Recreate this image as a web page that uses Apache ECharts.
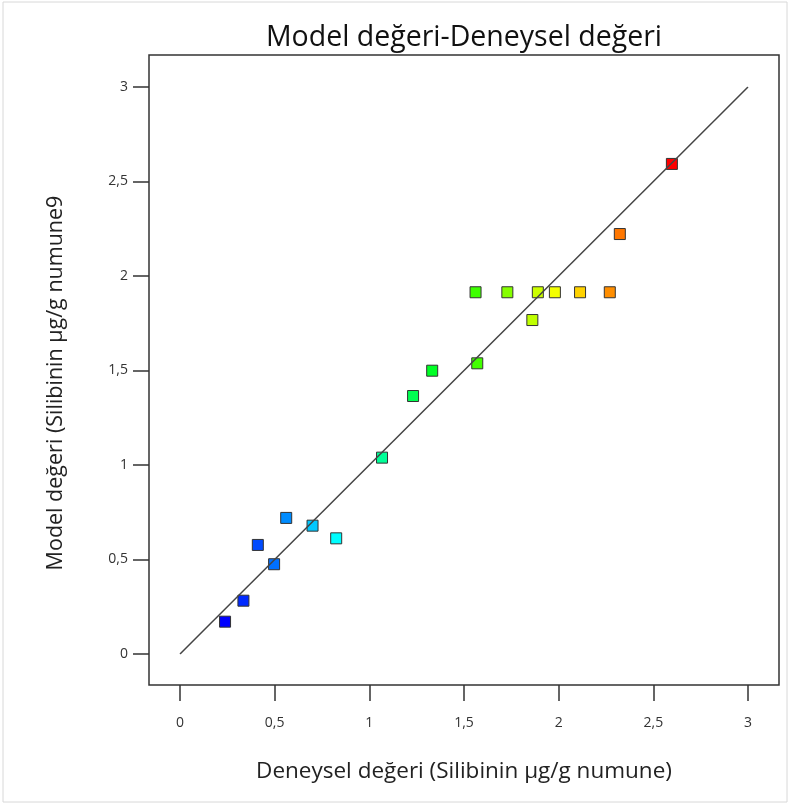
<!DOCTYPE html>
<html>
<head>
<meta charset="utf-8">
<script src="https://cdn.jsdelivr.net/npm/echarts@6/dist/echarts.min.js"></script>
<style>
  html, body { margin: 0; padding: 0; background: #fff; }
  #chart { width: 790px; height: 805px; }
</style>
</head>
<body>
<div id="chart"></div>
<script>
// Experimental (actual) vs. model-predicted silibinin content
const deneysel = [0.238, 0.335, 0.411, 0.497, 0.561, 0.700, 0.825, 1.067, 1.231, 1.332,
                  1.570, 1.561, 1.729, 1.861, 1.890, 1.980, 2.113, 2.270, 2.323, 2.598];
const model    = [0.171, 0.282, 0.577, 0.475, 0.720, 0.679, 0.612, 1.039, 1.365, 1.499,
                  1.538, 1.914, 1.914, 1.767, 1.914, 1.914, 1.914, 1.914, 2.222, 2.593];
const esitlikCizgisi = [[0, 0], [3, 3]];
const tickLabels = { 0: '0', 0.5: '0,5', 1: '1', 1.5: '1,5', 2: '2', 2.5: '2,5', 3: '3' };

const points = deneysel.map((v, i) => [v, model[i]]);
const fontFamily = '"Open Sans", "Noto Sans", sans-serif';
const fmt = v => tickLabels[v] !== undefined ? tickLabels[v] : String(v).replace('.', ',');

const chart = echarts.init(document.getElementById('chart'), null, { renderer: 'canvas' });
chart.setOption({
  backgroundColor: '#fff',
  animation: false,
  title: {
    text: 'Model değeri-Deneysel değeri',
    left: 459, top: 18, textAlign: 'center',
    textStyle: { fontFamily, fontSize: 28.5, fontWeight: 'normal', color: '#111' }
  },
  grid: [
    // data area: 0..3 on both axes
    { left: 180, right: 42, top: 87, bottom: 151, show: false },
    // frame around the plot
    { left: 149, right: 11, top: 55, bottom: 120, show: true,
      borderColor: '#333', borderWidth: 1.5, backgroundColor: 'transparent' },
    // thin outer page border
    { left: 3, right: 3, top: 2, bottom: 3, show: true,
      borderColor: '#d8d8d8', borderWidth: 1, backgroundColor: 'transparent' }
  ],
  xAxis: [
    {
      gridIndex: 0, type: 'value', min: 0, max: 3, interval: 0.5,
      position: 'bottom', offset: 31,
      axisLine: { show: false, onZero: false },
      axisTick: { show: true, length: 16, inside: false, lineStyle: { color: '#333', width: 1.5 } },
      axisLabel: { formatter: fmt, margin: 31, fontFamily, fontSize: 14, color: '#333' },
      splitLine: { show: false },
      name: 'Deneysel değeri (Silibinin µg/g numune)',
      nameLocation: 'middle', nameGap: 75,
      nameTextStyle: { fontFamily, fontSize: 22.5, color: '#222' }
    },
    { gridIndex: 1, type: 'value', min: 0, max: 1, show: false },
    { gridIndex: 2, type: 'value', min: 0, max: 1, show: false }
  ],
  yAxis: [
    {
      gridIndex: 0, type: 'value', min: 0, max: 3, interval: 0.5,
      position: 'left', offset: 31,
      axisLine: { show: false, onZero: false },
      axisTick: { show: true, length: 16, inside: false, lineStyle: { color: '#333', width: 1.5 } },
      axisLabel: { formatter: fmt, margin: 21, fontFamily, fontSize: 14, color: '#333' },
      splitLine: { show: false },
      name: 'Model değeri (Silibinin µg/g numune9',
      nameLocation: 'middle', nameGap: 82,
      nameTextStyle: { fontFamily, fontSize: 21.5, color: '#222', padding: [0, 25, 0, 0] }
    },
    { gridIndex: 1, type: 'value', min: 0, max: 1, show: false },
    { gridIndex: 2, type: 'value', min: 0, max: 1, show: false }
  ],
  visualMap: {
    show: false, type: 'continuous', seriesIndex: 0, dimension: 0,
    min: Math.min(...deneysel), max: Math.max(...deneysel),
    inRange: { color: ['#0000ff', '#00ffff', '#00ff00', '#ffff00', '#ff0000'] }
  },
  series: [
    {
      type: 'scatter', xAxisIndex: 0, yAxisIndex: 0,
      data: points,
      symbol: 'rect', symbolSize: 11,
      itemStyle: { borderColor: '#333', borderWidth: 1, opacity: 1 },
      z: 2
    },
    {
      type: 'line', xAxisIndex: 0, yAxisIndex: 0,
      data: esitlikCizgisi,
      symbol: 'none',
      lineStyle: { color: '#444', width: 1.5 },
      silent: true,
      z: 3
    }
  ]
});
</script>
</body>
</html>
